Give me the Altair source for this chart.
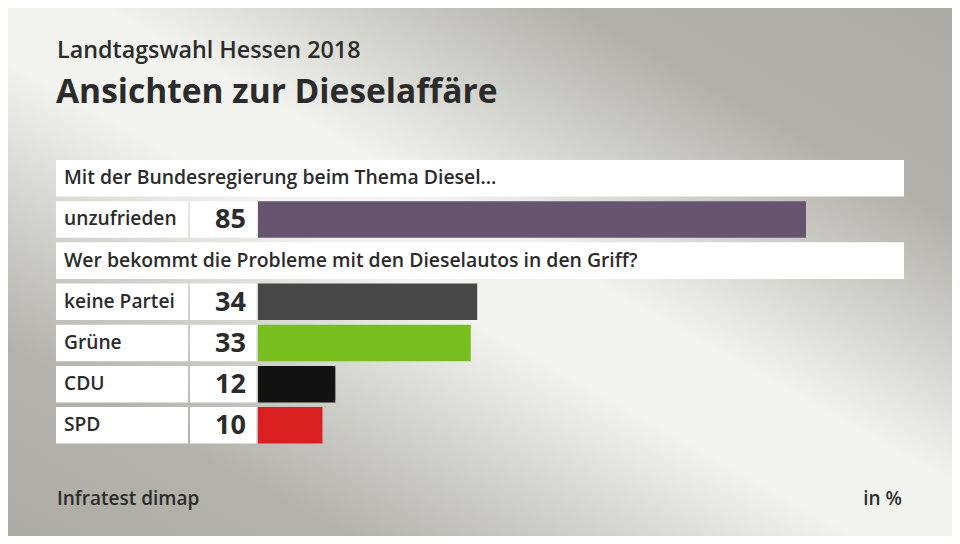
import altair as alt
import pandas as pd

subtitle_text = "Landtagswahl Hessen 2018"
title_text = "Ansichten zur Dieselaffäre"
source_text = "Infratest dimap"
unit_text = "in %"

section_keys = ["h1", "h2"]
section_texts = [
    "Mit der Bundesregierung beim Thema Diesel…",
    "Wer bekommt die Probleme mit den Dieselautos in den Griff?",
]
categories = ["unzufrieden", "keine Partei", "Grüne", "CDU", "SPD"]
values = [85, 34, 33, 12, 10]
bar_colors = ["#67546f", "#474747", "#78be1f", "#121212", "#d91f1f"]
row_order = ["h1", "unzufrieden", "h2", "keine Partei", "Grüne", "CDU", "SPD"]

W, H = 944, 528
FONT = "Open Sans"
TXT = "#2b2b2b"

bars = pd.DataFrame({
    "row": categories,
    "value": values,
    "color": bar_colors,
    "label": [str(v) for v in values],
})
heads = pd.DataFrame({"row": section_keys, "text": section_texts})
one = pd.DataFrame({"a": [0]})

yscale = alt.Scale(domain=row_order, range=[149.7, 437.9], paddingInner=0.113, paddingOuter=0.0565)
xscale = alt.Scale(domain=[-38.777, 107.647], nice=False, zero=False)
Y = alt.Y("row:N", scale=yscale, axis=None)

grad = alt.LinearGradient(
    gradient="linear",
    x1=0, y1=1, x2=1, y2=0,
    stops=[
        alt.GradientStop(color="#adaca5", offset=0),
        alt.GradientStop(color="#b3b2ab", offset=0.18),
        alt.GradientStop(color="#f2f3ef", offset=0.45),
        alt.GradientStop(color="#f2f3ef", offset=0.55),
        alt.GradientStop(color="#b1b0a9", offset=0.8),
        alt.GradientStop(color="#adaca5", offset=1),
    ],
)

bg = alt.Chart(one).mark_rect(fill=grad).encode(
    x=alt.value(0), x2=alt.value(W), y=alt.value(0), y2=alt.value(H)
)

sub = alt.Chart(one).mark_text(
    align="left", baseline="alphabetic", font=FONT, fontSize=23.3, fontWeight=600, color=TXT, text=subtitle_text
).encode(x=alt.value(49), y=alt.value(50))

ttl = alt.Chart(one).mark_text(
    align="left", baseline="alphabetic", font=FONT, fontSize=33.5, fontWeight=700, color=TXT, text=title_text
).encode(x=alt.value(48), y=alt.value(95))

src = alt.Chart(one).mark_text(
    align="left", baseline="alphabetic", font=FONT, fontSize=19, fontWeight=600, color=TXT, text=source_text
).encode(x=alt.value(49), y=alt.value(497))

unit = alt.Chart(one).mark_text(
    align="right", baseline="alphabetic", font=FONT, fontSize=19, fontWeight=600, color=TXT, text=unit_text
).encode(x=alt.value(894), y=alt.value(497))

head_box = alt.Chart(heads).mark_rect(fill="white").encode(
    x=alt.value(48), x2=alt.value(896), y=Y
)
head_text = alt.Chart(heads).mark_text(
    align="left", baseline="middle", font=FONT, fontSize=19.4, fontWeight=600, color=TXT
).encode(x=alt.value(56), y=Y, text="text:N")

label_box = alt.Chart(bars).mark_rect(fill="white").encode(
    x=alt.value(48), x2=alt.value(180), y=Y
)
num_box = alt.Chart(bars).mark_rect(fill="white").encode(
    x=alt.value(182), x2=alt.value(248.5), y=Y
)
label_text = alt.Chart(bars).mark_text(
    align="left", baseline="middle", font=FONT, fontSize=19.2, fontWeight=600, color=TXT
).encode(x=alt.value(56), y=Y, text="row:N")
num_text = alt.Chart(bars).mark_text(
    align="right", baseline="middle", font=FONT, fontSize=27, fontWeight=700, color=TXT, dy=1
).encode(x=alt.value(238), y=Y, text="label:N")

bar = alt.Chart(bars).mark_bar().encode(
    x=alt.X("value:Q", scale=xscale, axis=None),
    x2=alt.datum(0),
    y=Y,
    color=alt.Color("color:N", scale=None, legend=None),
)

chart = alt.layer(
    bg, sub, ttl, src, unit, head_box, head_text, label_box, num_box, label_text, num_text, bar
).properties(
    width=W, height=H, padding=0, autosize=alt.AutoSizeParams(type="none")
).configure_view(stroke=None)

chart.save("out.html", embed_options={"renderer": "svg", "actions": False})
